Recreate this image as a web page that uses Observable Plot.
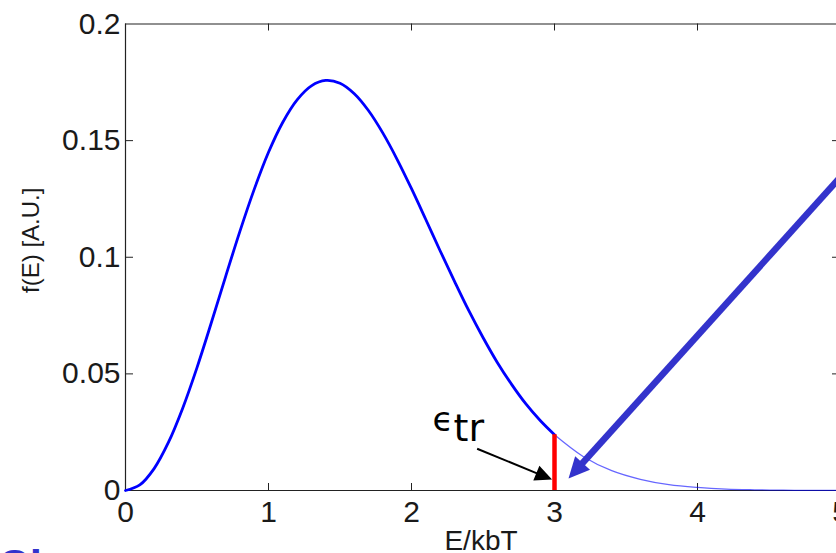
<!DOCTYPE html>
<html>
<head>
<meta charset="utf-8">
<script src="https://cdn.jsdelivr.net/npm/d3@7"></script>
<script src="https://cdn.jsdelivr.net/npm/@observablehq/plot@0.6"></script>
<style>
  html, body { margin: 0; padding: 0; background: #fff; overflow: hidden; }
  #wrap { position: relative; width: 836px; height: 553px; overflow: hidden; }
  #slideText {
    position: absolute; left: -2px; top: 541px; line-height: 1;
    font: bold 44px "Liberation Sans", Arial, sans-serif; color: #3333cc;
  }
</style>
</head>
<body>
<div id="wrap">
  <div id="chart"></div>
  <div id="slideText">Cl</div>
</div>
<script>
// Energy distribution below the threshold (drawn bold)
const energy  = [0, 0.1, 0.2, 0.3, 0.4, 0.5, 0.6, 0.7, 0.8, 0.9, 1.0, 1.1, 1.2, 1.3, 1.4, 1.5,
                 1.6, 1.7, 1.8, 1.9, 2.0, 2.1, 2.2, 2.3, 2.4, 2.5, 2.6, 2.7, 2.8, 2.9, 3.0];
const density = [0, 0.0024, 0.0094, 0.0206, 0.0353, 0.0527, 0.0719, 0.0917, 0.1111, 0.1291, 0.1450, 0.1579, 0.1675, 0.1735, 0.1758, 0.1746,
                 0.1701, 0.1628, 0.1532, 0.1419, 0.1294, 0.1162, 0.1028, 0.0898, 0.0772, 0.0656, 0.0549, 0.0455, 0.0371, 0.0300, 0.0239];

// High-energy tail above the threshold (drawn thin)
const tailEnergy  = [3.0, 3.2, 3.4, 3.6, 3.8, 4.0, 4.2, 4.4, 4.6, 4.8, 5.0];
const tailDensity = [0.0239, 0.0146, 0.0085, 0.0048, 0.0025, 0.0013, 0.0006, 0.0003, 0.00013, 0.00005, 0.00002];

// Threshold energy ε_tr and the distribution value there
const threshold = [3];
const thresholdDensity = [0.0239];

// Axis ticks
const xTicks = [0, 1, 2, 3, 4, 5];
const yTicks = [0, 0.05, 0.1, 0.15, 0.2];

// Annotation anchors (data coordinates)
const epsilonAt = [2.147, 0.0254];
const subscriptAt = [2.294, 0.0214];
const labelArrowFrom = [2.459, 0.0179];
const labelArrowTo = [2.983, 0.0047];
const tailArrowFrom = [5.42, 0.163];
const tailArrowTo = [3.098, 0.0051];

const W = 836, H = 553;
const M = {top: 23.5, right: 0, bottom: 63, left: 125};
const xDomain = [0, 5], yDomain = [0, 0.2];
const xRange = [M.left, 840];
const yRange = [H - M.bottom, M.top];

const bulk = energy.map((e, i) => ({e, f: density[i]}));
const tail = tailEnergy.map((e, i) => ({e, f: tailDensity[i]}));

// Pixel-space helpers for the arrowheads
const px = d3.scaleLinear(xDomain, xRange);
const py = d3.scaleLinear(yDomain, yRange);
function arrow(from, to, headLen, headHalf) {
  const x0 = px(from[0]), y0 = py(from[1]), x1 = px(to[0]), y1 = py(to[1]);
  const len = Math.hypot(x1 - x0, y1 - y0);
  const ux = (x1 - x0) / len, uy = (y1 - y0) / len;
  const bx = x1 - ux * headLen, by = y1 - uy * headLen;
  const head = [
    [x1, y1],
    [bx - uy * headHalf, by + ux * headHalf],
    [bx + uy * headHalf, by - ux * headHalf]
  ].map(([x, y]) => ({x: px.invert(x), y: py.invert(y)}));
  const shaft = [{
    x1: from[0], y1: from[1],
    x2: px.invert(bx + ux * 2), y2: py.invert(by + uy * 2)
  }];
  return {head, shaft};
}
const blackArrow = arrow(labelArrowFrom, labelArrowTo, 17, 8);
const blueArrow = arrow(tailArrowFrom, tailArrowTo, 21, 10);

const spanW = W - M.right - M.left;       // horizontal extent of tick marks
const spanH = H - M.bottom - M.top;       // vertical extent of tick marks
const yTickLen = 8, xTickLen = 7;
const innerX = xTicks.slice(1, -1), innerY = yTicks.slice(1, -1);
const axisColor = "#222";

const chart = Plot.plot({
  width: W,
  height: H,
  marginTop: M.top,
  marginRight: M.right,
  marginBottom: M.bottom,
  marginLeft: M.left,
  style: {
    fontFamily: "'Liberation Sans', Arial, Helvetica, sans-serif",
    fontSize: "30px",
    color: "#1a1a1a",
    background: "white"
  },
  x: {domain: xDomain, range: xRange, ticks: xTicks, tickSize: 0, tickPadding: 10,
      tickFormat: d => String(d), label: null},
  y: {domain: yDomain, ticks: yTicks, tickSize: 0, tickPadding: 5,
      tickFormat: d => String(d), label: null},
  marks: [
    // box
    Plot.ruleY([yDomain[0], yDomain[1]], {stroke: axisColor, strokeWidth: 1.2}),
    Plot.ruleX([xDomain[0], xDomain[1]], {stroke: axisColor, strokeWidth: 1.2}),
    // inward ticks on all four sides
    Plot.tickX(innerX, {x: d => d, insetTop: spanH - xTickLen, stroke: axisColor}),
    Plot.tickX(innerX, {x: d => d, insetBottom: spanH - xTickLen, stroke: axisColor}),
    Plot.tickY(innerY, {y: d => d, insetRight: spanW - yTickLen, stroke: axisColor}),
    Plot.tickY(innerY, {y: d => d, insetLeft: (xRange[1] - yTickLen) - M.left, stroke: axisColor}),
    // axis titles
    Plot.text(["E/kbT"], {frameAnchor: "bottom", lineAnchor: "bottom", dy: 59, fontSize: 28, fill: "#1a1a1a"}),
    Plot.text(["f(E) [A.U.]"], {frameAnchor: "left", textAnchor: "middle", rotate: -90, lineAnchor: "top",
      dx: -104, dy: -17, fontSize: 24, fill: "#1a1a1a"}),
    // distribution
    Plot.line(tail, {x: "e", y: "f", stroke: "#0000ff", strokeWidth: 1.3, strokeOpacity: 0.6, curve: "catmull-rom"}),
    Plot.line(bulk, {x: "e", y: "f", stroke: "#0000ff", strokeWidth: 2.8, curve: "catmull-rom"}),
    // threshold marker
    Plot.ruleX(threshold, {x: d => d, y1: 0, y2: () => thresholdDensity[0], stroke: "#ff0000", strokeWidth: 4.5}),
    // ε_tr label
    Plot.text([epsilonAt], {x: d => d[0], y: d => d[1], text: () => "ϵ", textAnchor: "start", lineAnchor: "bottom",
      fontFamily: "'DejaVu Sans', sans-serif", fontSize: 34, fill: "#000"}),
    Plot.text([subscriptAt], {x: d => d[0], y: d => d[1], text: () => "tr", textAnchor: "start", lineAnchor: "bottom",
      fontFamily: "'DejaVu Sans', sans-serif", fontSize: 38, fill: "#000"}),
    // label arrow
    Plot.link(blackArrow.shaft, {x1: "x1", y1: "y1", x2: "x2", y2: "y2", stroke: "#000", strokeWidth: 2}),
    Plot.line(blackArrow.head, {x: "x", y: "y", fill: "#000", stroke: "none"}),
    // arrow pointing at the tail
    Plot.link(blueArrow.shaft, {x1: "x1", y1: "y1", x2: "x2", y2: "y2", stroke: "#3333cc", strokeWidth: 6.5}),
    Plot.line(blueArrow.head, {x: "x", y: "y", fill: "#3333cc", stroke: "none"})
  ]
});
document.getElementById("chart").appendChild(chart);
</script>
</body>
</html>
